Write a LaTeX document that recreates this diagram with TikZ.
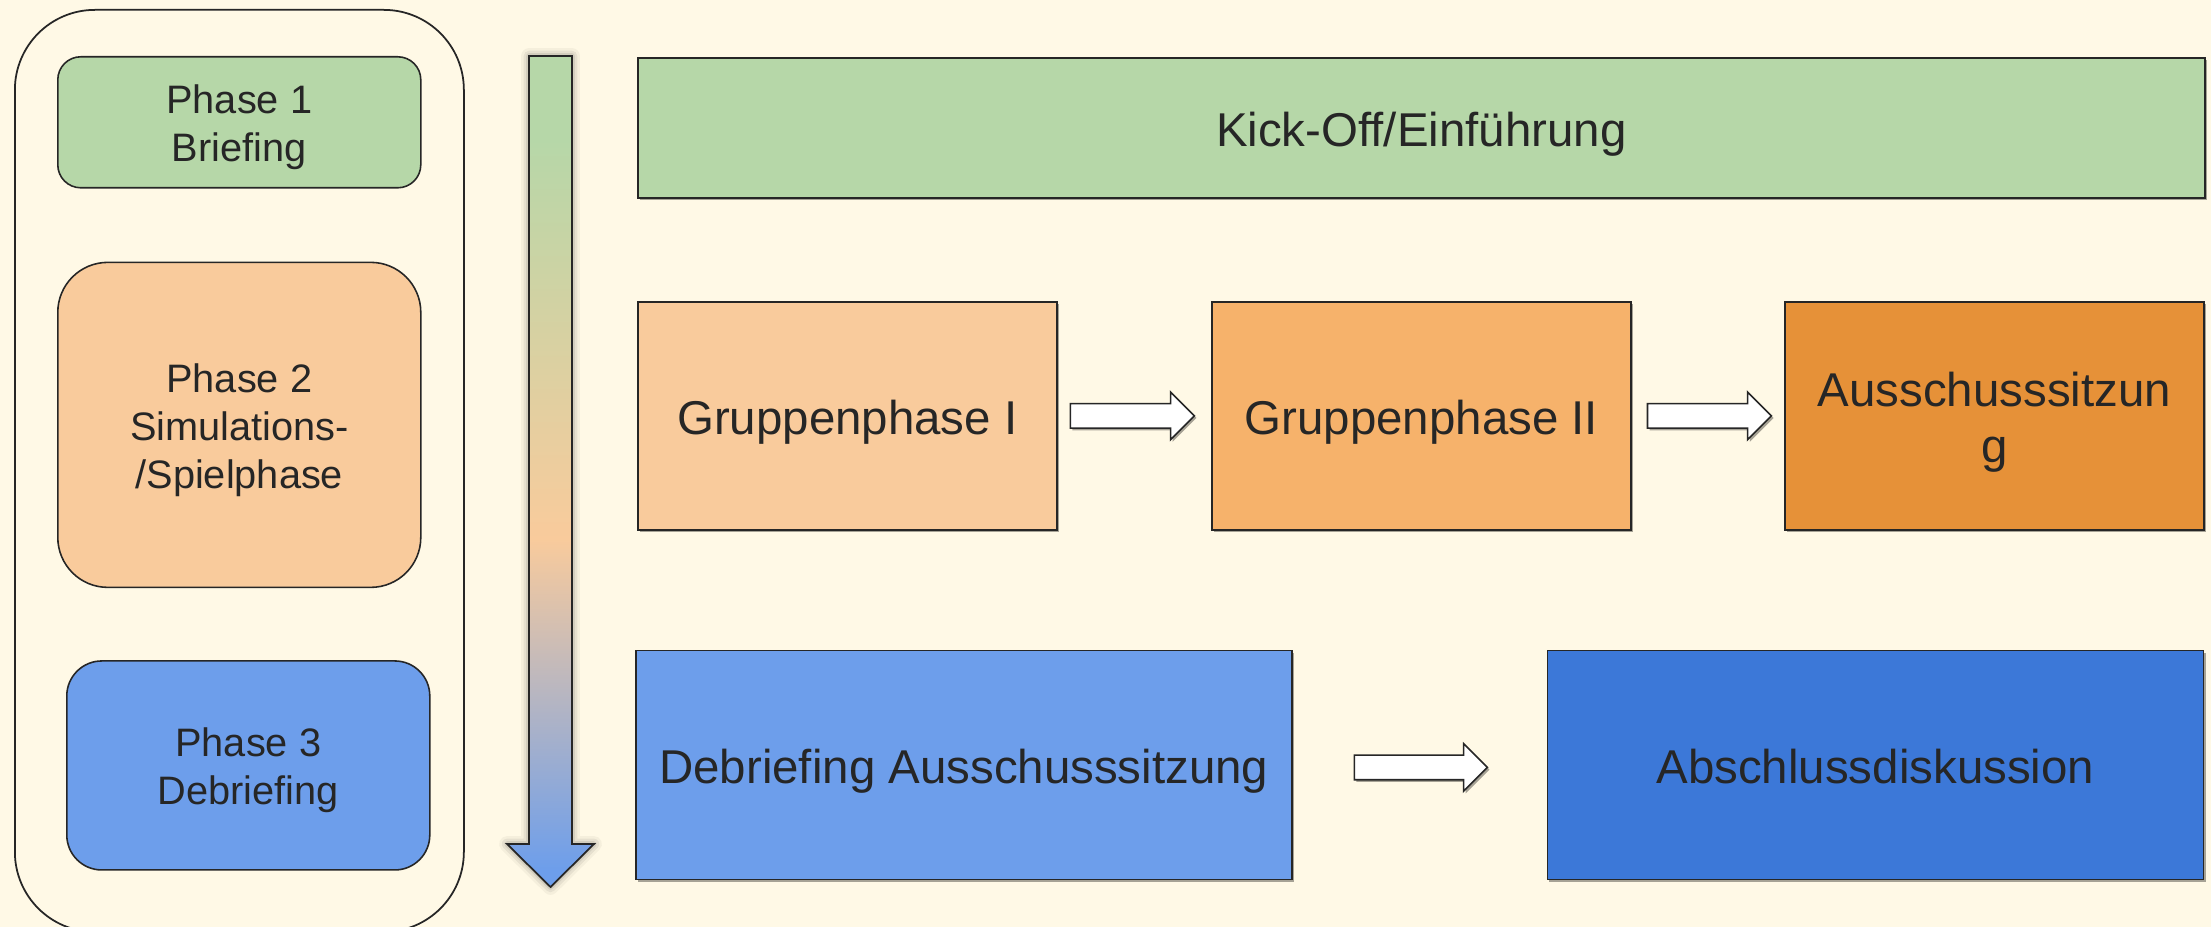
\documentclass[tikz,border=0pt]{standalone}
\usepackage{fontspec}
\setmainfont{Liberation Sans}
\usetikzlibrary{positioning}
\usetikzlibrary{calc}
\usetikzlibrary{shapes.arrows}
\usetikzlibrary{shadows}

\definecolor{bgCream}{HTML}{FFF9E6}
\definecolor{phGreen}{HTML}{B6D7A8}
\definecolor{phPeach}{HTML}{F9CB9C}
\definecolor{phOrange}{HTML}{F6B26B}
\definecolor{phDarkOrange}{HTML}{E69138}
\definecolor{phBlue}{HTML}{6D9EEB}
\definecolor{phDarkBlue}{HTML}{3C78D8}
\definecolor{lineGrey}{HTML}{262626}

% colour run of the time arrow: green (top) - peach - blue (bottom)
\pgfdeclareverticalshading{timeShade}{100bp}{color(0bp)=(phBlue); color(26bp)=(phBlue); color(46bp)=(phPeach); color(70bp)=(phGreen); color(100bp)=(phGreen)}

\newcommand\bigText{\fontsize{13.5}{16}\selectfont}
\newcommand\smallText{\fontsize{11.3}{13.7}\selectfont}
\newcommand\timeArrowPath{(5.29,-0.56) -- (5.72,-0.56) -- (5.72,-8.44) -- (5.94,-8.44) -- (5.505,-8.87) -- (5.07,-8.44) -- (5.29,-8.44) -- cycle}

\tikzset{
  boxShadow/.style={drop shadow={shadow xshift=0.6pt, shadow yshift=-0.6pt, opacity=0.35, fill=black}},
  phaseBox/.style={rectangle, draw=lineGrey, line width=0.45pt, text=lineGrey, align=center, minimum width=3.63cm,
    font=\smallText, text height=23.7pt, text depth=1.2pt},
  stageBox/.style={rectangle, draw=lineGrey, line width=0.45pt, text=lineGrey, align=center, font=\bigText,
    text height=12pt, text depth=1.6pt, boxShadow},
  frameBox/.style={rectangle, rounded corners=0.8cm, draw=lineGrey, line width=0.5pt},
}

\begin{document}
\begin{tikzpicture}[
    grpSize/.style={minimum width=4.19cm, minimum height=2.28cm},
    wideSize/.style={minimum width=6.56cm, minimum height=2.29cm},
    flowArrow/.style={single arrow, draw=lineGrey, fill=white, line width=0.45pt, inner xsep=0pt, inner ysep=0.115cm,
      minimum width=0.46cm, minimum height=1.24cm, single arrow head extend=0.115cm, single arrow tip angle=90, boxShadow},
    node distance = 1cm and 1cm]

    % page and background
    \useasboundingbox (0,0) rectangle (22.11,-9.27);
    \fill[bgCream] (0,0) rectangle (22.11,-9.27);

    % frame round the three phases
    \node[frameBox, minimum width=4.49cm, minimum height=9.22cm, anchor=north west] (frame) at (0.14,-0.09) {};

    % phases - first one placed at a coordinate, the others below it
    \node[phaseBox, fill=phGreen, rounded corners=0.23cm, minimum height=1.31cm, anchor=north west] (ph1) at (0.57,-0.56) {Phase 1\\Briefing};
    \node[phaseBox, fill=phPeach, rounded corners=0.5cm, minimum height=3.25cm, text height=37.4pt, below = 0.73cm of ph1] (ph2) {Phase 2\\Simulations-\\/Spielphase};
    \node[phaseBox, fill=phBlue, rounded corners=0.35cm, minimum height=2.09cm, below = 0.72cm of ph2, xshift=0.09cm] (ph3) {Phase 3\\Debriefing};

    % time arrow with a soft glow
    \foreach \w/\op in {4.5pt/0.04, 3pt/0.06, 1.6pt/0.08}
    {
        \draw[line width=\w, black, opacity=\op, line join=round] \timeArrowPath;
    }
    \shade[shading=timeShade, draw=lineGrey, line width=0.5pt] \timeArrowPath;

    % top row
    \node[stageBox, fill=phGreen, minimum width=15.67cm, minimum height=1.40cm, anchor=north west] (kick) at (6.37,-0.57) {Kick-Off/Einführung};

    % middle row
    \node[stageBox, fill=phPeach, grpSize, below right = 1.025cm and 0cm of kick.south west] (grp1) {Gruppenphase I};
    \node[stageBox, fill=phOrange, grpSize, right = 1.535cm of grp1] (grp2) {Gruppenphase II};
    \node[stageBox, fill=phDarkOrange, grpSize, text height=28pt, right = 1.525cm of grp2] (aus) {Ausschusssitzun\\g};

    % bottom row
    \node[stageBox, fill=phBlue, wideSize, below right = 1.19cm and -0.02cm of grp1.south west] (debr) {Debriefing Ausschusssitzung};
    \node[stageBox, fill=phDarkBlue, wideSize, right = 2.54cm of debr] (absch) {Abschlussdiskussion};

    % hollow arrows between the boxes, tail a little off the box
    \node[flowArrow, right = 0.12cm of grp1, anchor=tail] (arr1) {};
    \node[flowArrow, right = 0.15cm of grp2, anchor=tail] (arr2) {};
    \node[flowArrow, minimum height=1.33cm, right = 0.61cm of debr, anchor=tail, yshift=-0.025cm] (arr3) {};

\end{tikzpicture}
\end{document}
